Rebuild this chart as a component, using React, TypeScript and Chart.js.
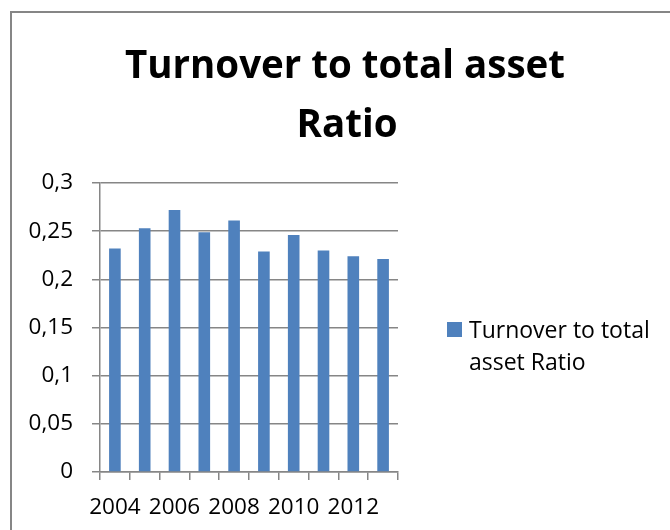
import React, { useEffect, useRef } from 'react';
import { Chart, registerables } from 'chart.js';

Chart.register(...registerables);

const categories = ['2004', '2005', '2006', '2007', '2008', '2009', '2010', '2011', '2012', '2013'];
const ratioValues = [0.232, 0.253, 0.272, 0.249, 0.261, 0.229, 0.246, 0.23, 0.224, 0.221];
const seriesName = 'Turnover to total asset Ratio';
const titleLines = ['Turnover to total asset', 'Ratio'];
const legendLines = ['Turnover to total', 'asset Ratio'];
const yMin = 0;
const yMax = 0.3;
const yStep = 0.05;

const BAR_COLOR = '#4F81BD';
const LINE_COLOR = '#868686';
const FONT = "'Open Sans', 'Noto Sans', sans-serif";

const decorPlugin = {
  id: 'decor',
  beforeDraw(chart: any) {
    const ctx = chart.ctx;
    ctx.save();
    ctx.fillStyle = '#ffffff';
    ctx.fillRect(0, 0, chart.width, chart.height);
    ctx.restore();
  },
  afterDraw(chart: any) {
    const ctx = chart.ctx;
    ctx.save();
    // outer frame
    ctx.strokeStyle = LINE_COLOR;
    ctx.lineWidth = 2;
    ctx.strokeRect(11, 12, 800, 700);
    // title
    ctx.fillStyle = '#000000';
    ctx.textAlign = 'center';
    ctx.textBaseline = 'alphabetic';
    ctx.font = `bold 38.5px ${FONT}`;
    ctx.fillText(titleLines[0], 345, 78);
    ctx.fillText(titleLines[1], 347, 137);
    // legend
    ctx.fillStyle = BAR_COLOR;
    ctx.fillRect(447, 322, 15, 15);
    ctx.fillStyle = '#000000';
    ctx.textAlign = 'left';
    ctx.font = `23px ${FONT}`;
    ctx.fillText(legendLines[0], 469, 337.5);
    ctx.fillText(legendLines[1], 469, 370);
    ctx.restore();
  },
};

export default function App() {
  const canvasRef = useRef<HTMLCanvasElement | null>(null);

  useEffect(() => {
    if (!canvasRef.current) return;
    const chart = new Chart(canvasRef.current, {
      type: 'bar',
      data: {
        labels: categories,
        datasets: [
          {
            label: seriesName,
            data: ratioValues,
            backgroundColor: BAR_COLOR,
            borderWidth: 0,
            barPercentage: 0.39,
            categoryPercentage: 1.0,
          },
        ],
      },
      options: {
        responsive: false,
        animation: false,
        devicePixelRatio: 1,
        layout: { padding: { left: 10, right: 272, top: 183, bottom: 0 } },
        plugins: {
          legend: { display: false },
          title: { display: false },
          tooltip: { enabled: false },
        },
        scales: {
          x: {
            offset: true,
            grid: {
              display: true,
              drawOnChartArea: false,
              drawTicks: true,
              tickLength: 8,
              offset: true,
              color: LINE_COLOR,
              lineWidth: 1.5,
            },
            border: { display: true, color: LINE_COLOR, width: 1.5 },
            ticks: {
              autoSkip: false,
              maxRotation: 0,
              minRotation: 0,
              padding: 14,
              color: '#000000',
              font: { family: FONT, size: 22.5 },
              callback: (_v: any, i: number) => (i % 2 === 0 ? categories[i] : ''),
            },
            afterFit: (scale: any) => {
              scale.height = 58;
            },
          },
          y: {
            min: yMin,
            max: yMax,
            grid: {
              color: LINE_COLOR,
              lineWidth: 1.5,
              tickLength: 8,
              drawTicks: true,
            },
            border: { display: true, color: LINE_COLOR, width: 1.5 },
            ticks: {
              stepSize: yStep,
              padding: 19,
              color: '#000000',
              font: { family: FONT, size: 22.5 },
              callback: (v: any) => String(Number(Number(v).toFixed(2))).replace('.', ','),
            },
            afterFit: (scale: any) => {
              scale.width = 90;
            },
          },
        },
      },
      plugins: [decorPlugin],
    });
    return () => chart.destroy();
  }, []);

  return (
    <div style={{ position: 'absolute', left: 0, top: 0, width: 670, height: 530, overflow: 'hidden', background: '#fff' }}>
      <canvas ref={canvasRef} width={670} height={530} style={{ display: 'block' }} />
    </div>
  );
}
